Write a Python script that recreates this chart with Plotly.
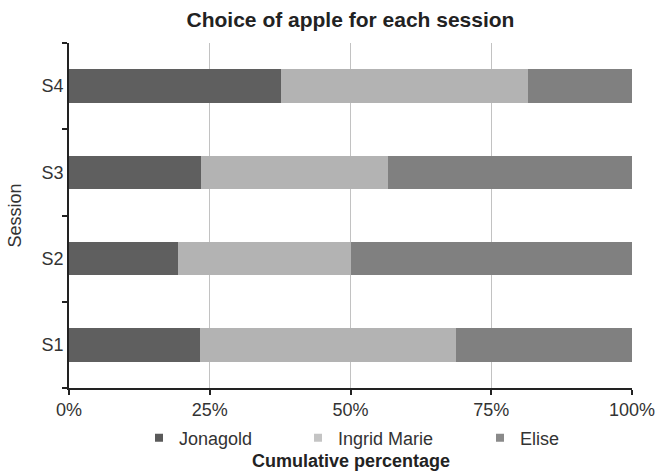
import plotly.graph_objects as go

# Share of each apple variety chosen per session (percent of choices)
sessions = ["S1", "S2", "S3", "S4"]
jonagold = [23.3, 19.3, 23.4, 37.7]
ingrid_marie = [45.4, 30.8, 33.2, 43.8]
elise = [31.3, 49.9, 43.4, 18.5]

varieties = ["Jonagold", "Ingrid Marie", "Elise"]
bar_colors = ["#5f5f5f", "#b3b3b3", "#808080"]
legend_colors = ["#5a5a5a", "#c4c4c4", "#8a8a8a"]
tick_vals = [0, 25, 50, 75, 100]
tick_text = ["0%", "25%", "50%", "75%", "100%"]

FONT = "Liberation Sans, Arial, sans-serif"

fig = go.Figure()
for name, vals, col in zip(varieties, [jonagold, ingrid_marie, elise], bar_colors):
    fig.add_trace(go.Bar(
        y=sessions, x=vals, name=name, orientation="h",
        marker=dict(color=col, line=dict(width=0)),
        width=0.39, showlegend=False, hoverinfo="x+y+name",
    ))

# Legend entries with small square swatches, one legend per entry
legend_ids = ["legend", "legend2", "legend3"]
legend_x = [139, 298, 480]
for name, col, lid in zip(varieties, legend_colors, legend_ids):
    fig.add_trace(go.Scatter(
        x=[None], y=[None], mode="markers", name=name,
        marker=dict(symbol="square", size=8, color=col),
        legend=lid, showlegend=True,
    ))

legend_style = dict(
    orientation="h", xref="container", yref="container",
    yanchor="middle", xanchor="left", y=(475 - 438) / 475,
    font=dict(family=FONT, size=18, color="#333333"),
    bgcolor="rgba(0,0,0,0)", borderwidth=0,
)

fig.update_layout(
    width=658, height=475,
    margin=dict(l=69, r=26, t=43, b=87, autoexpand=False),
    plot_bgcolor="white", paper_bgcolor="white",
    barmode="stack",
    title=dict(
        text="<b>Choice of apple for each session</b>",
        font=dict(family=FONT, size=21, color="#222222"),
        x=(69 + 632) / 2 / 658, xanchor="center",
        y=1 - 20 / 475, yanchor="middle",
    ),
    legend=dict(x=legend_x[0] / 658, **legend_style),
    legend2=dict(x=legend_x[1] / 658, **legend_style),
    legend3=dict(x=legend_x[2] / 658, **legend_style),
    xaxis=dict(
        range=[0, 100], tickvals=tick_vals, ticktext=tick_text,
        showgrid=True, gridcolor="#c2c2c2", gridwidth=1.2,
        showline=True, linecolor="#222222", linewidth=1.5,
        ticks="outside", ticklen=5, tickcolor="#222222", tickwidth=1.5,
        tickfont=dict(family=FONT, size=18, color="#333333"),
        zeroline=False, automargin=False,
    ),
    yaxis=dict(
        categoryorder="array", categoryarray=sessions,
        range=[-0.5, 3.5], automargin=False,
        showgrid=False, showline=True, linecolor="#222222", linewidth=1.5,
        ticks="outside", tickson="boundaries", ticklen=5,
        tickcolor="#222222", tickwidth=1.5,
        tickfont=dict(family=FONT, size=18, color="#333333"),
        title=dict(text="Session",
                   font=dict(family=FONT, size=18, color="#333333")),
    ),
    annotations=[dict(
        text="<b>Cumulative percentage</b>",
        xref="paper", yref="paper", x=0.5, y=-(461 - 388) / 345,
        xanchor="center", yanchor="middle", showarrow=False,
        font=dict(family=FONT, size=18, color="#222222"),
    )],
)

fig.write_html("out.html")
